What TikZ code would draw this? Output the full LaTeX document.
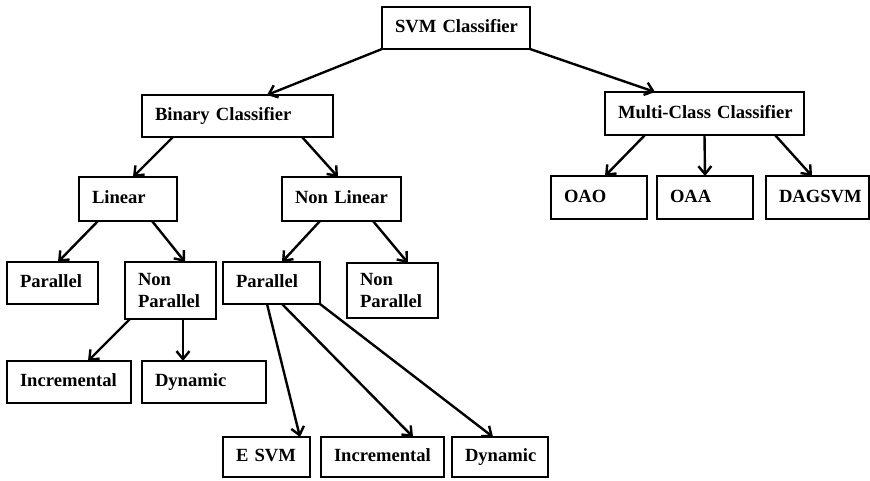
\documentclass[tikz,border=0pt]{standalone}
\usepackage{fontspec}
\setmainfont{Liberation Serif}
\usetikzlibrary{arrows.meta,positioning}

\begin{document}
\begin{tikzpicture}[x=1pt,y=-1pt,
  font=\fontsize{18.6}{22}\selectfont\bfseries,
  box/.code 2 args={\pgfmathsetmacro\boxtw{#1-26}%
    \tikzset{draw,line width=2.8pt,rectangle,anchor=north west,align=left,
      inner xsep=13pt,inner ysep=0pt,outer sep=0pt,
      minimum width=#1pt,minimum height=#2pt,
      text width/.expanded=\boxtw pt,
      execute at begin node={\hyphenpenalty=10000\exhyphenpenalty=10000}}},
  one/.style={text height=13pt,text depth=4pt},
  arr/.style={-{Straight Barb[length=8pt,width=13pt]},line width=2.4pt}]
  \useasboundingbox (0,0) rectangle (870,480);

  % root and first level
  \node[box={148}{42},one] (svm) at (382,7) {SVM~Classifier};
  \node[box={191}{42},one] (binary) at (142,95) {Binary~Classifier};
  \node[box={199}{43},one] (multi) at (605,92) {Multi-Class~Classifier};

  % second level
  \node[box={98}{44},one] (linear) at (79,177) {Linear};
  \node[box={119}{44},one] (nonlin) at (282,177) {Non~Linear};
  \node[box={96}{43},one] (oao) at (551,176) {OAO};
  \node[box={96}{43},one,right=10pt of oao] (oaa) {OAA};
  \node[box={103}{43},one,right=13pt of oaa] (dag) {DAGSVM};

  % third level
  \node[box={91}{42},one] (par1) at (7,262) {Parallel};
  \node[box={91}{57}] (npar1) at (125,262) {Non\\Parallel};
  \node[box={97}{42},one] (par2) at (223,262) {Parallel};
  \node[box={91}{55}] (npar2) at (347,263) {Non\\Parallel};

  % leaves
  \node[box={124}{42},one] (inc1) at (7,361) {Incremental};
  \node[box={124}{42},one,right=11pt of inc1] (dyn1) {Dynamic};
  \node[box={87}{40},one] (esvm) at (223,437) {E~SVM};
  \node[box={123}{40},one,right=11pt of esvm] (inc2) {Incremental};
  \node[box={96}{40},one,right=8pt of inc2] (dyn2) {Dynamic};

  \draw[arr] (svm.south west) -- ([xshift=29.5]binary.north);
  \draw[arr] (svm.south east) -- ([xshift=-49.5]multi.north);
  \draw[arr] ([xshift=31]binary.south west) -- ([xshift=5]linear.north);
  \draw[arr] ([xshift=-31]binary.south east) -- ([xshift=-3.5]nonlin.north);
  \draw[arr] ([xshift=19]linear.south west) -- ([xshift=5.5]par1.north);
  \draw[arr] ([xshift=-25]linear.south east) -- ([xshift=14.5]npar1.north);
  \draw[arr] ([xshift=38]nonlin.south west) -- ([xshift=10.5]par2.north);
  \draw[arr] ([xshift=-28]nonlin.south east) -- ([xshift=15.5]npar2.north);
  \draw[arr] ([xshift=5]npar1.south west) -- ([xshift=19]inc1.north);
  \draw[arr] ([xshift=12.5]npar1.south) -- ([xshift=-21]dyn1.north);
  \draw[arr] ([xshift=44]par2.south west) -- ([xshift=33.5]esvm.north);
  \draw[arr] ([xshift=59]par2.south west) -- ([xshift=30.5]inc2.north);
  \draw[arr] (par2.south east) -- ([xshift=-7]dyn2.north);
  \draw[arr] ([xshift=40]multi.south west) -- ([xshift=6]oao.north);
  \draw[arr] (multi.south) -- (oaa.north);
  \draw[arr] ([xshift=-29]multi.south east) -- ([xshift=-5.5]dag.north);
\end{tikzpicture}
\end{document}
